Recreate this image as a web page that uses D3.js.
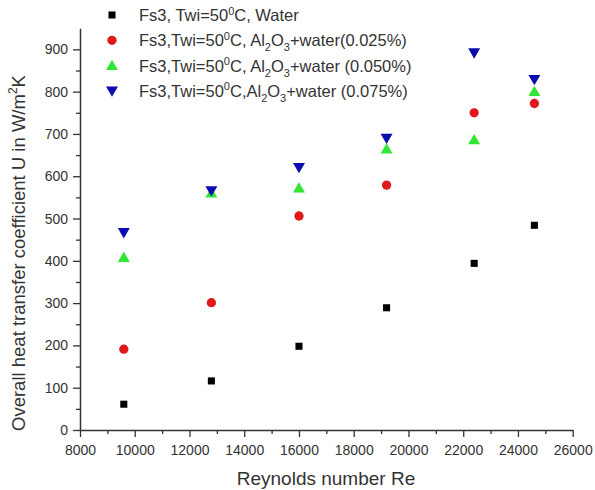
<!DOCTYPE html>
<html lang="en">
<head>
    <meta charset="UTF-8" />
    <title>Overall heat transfer coefficient</title>
    <script src="https://d3js.org/d3.v7.js"></script>
    <style>
        body { margin: 0; background: #fff; }
        text { font-family: "Liberation Sans", Arial, sans-serif; fill: #333; }
    </style>
</head>
<body>
    <script>
        var w = 595;
        var h = 490;

        // Reynolds numbers (x) shared by every series
        var reynolds = [9600, 12800, 16000, 19200, 22400, 24600];

        // U values (W/m2K)
        var water = [61, 116, 198, 289, 394, 484];
        var al025 = [191, 301, 506, 579, 750, 772];
        var al050 = [408, 560, 572, 664, 686, 800];
        var al075 = [467, 566, 621, 690, 892, 829];

        var xTicks = [8000, 10000, 12000, 14000, 16000, 18000, 20000, 22000, 24000, 26000];
        var yTicks = [0, 100, 200, 300, 400, 500, 600, 700, 800, 900];

        var series = [
            { values: water, shape: d3.symbolSquare, size: 50, color: "#000000", dy: 0 },
            { values: al025, shape: d3.symbolCircle, size: 68, color: "#e01a1c", dy: 0 },
            { values: al050, shape: d3.symbolTriangle, size: 62, color: "#33e633", dy: 1 },
            { values: al075, shape: d3.symbolTriangle, size: 62, color: "#0b0bb0", dy: -1, flip: true }
        ];

        var margin = { left: 80, right: 23, top: 29, bottom: 60 };

        var xScale = d3.scaleLinear()
            .domain([8000, 26000])
            .range([margin.left, w - margin.right + 0.7]);

        var yScale = d3.scaleLinear()
            .domain([0, 950])
            .range([h - margin.bottom, margin.top - 0.8]);

        var svg = d3.select("body")
            .append("svg")
            .attr("width", w)
            .attr("height", h);

        // minor ticks first, then majors with labels
        var xMinor = d3.range(9000, 26000, 2000);
        var yMinor = d3.range(50, 950, 100);

        svg.append("g")
            .attr("transform", `translate(0,${yScale(0)})`)
            .call(d3.axisBottom(xScale).tickValues(xMinor).tickSize(4).tickFormat(""))
            .call(g => g.select(".domain").remove())
            .selectAll("line").attr("stroke", "#333").attr("stroke-width", 1.3);

        svg.append("g")
            .attr("transform", `translate(${xScale(8000)},0)`)
            .call(d3.axisLeft(yScale).tickValues(yMinor).tickSize(4).tickFormat(""))
            .call(g => g.select(".domain").remove())
            .selectAll("line").attr("stroke", "#333").attr("stroke-width", 1.3);

        var xAxis = svg.append("g")
            .attr("transform", `translate(0,${yScale(0)})`)
            .call(d3.axisBottom(xScale).tickValues(xTicks).tickSize(7).tickSizeOuter(0).tickPadding(5).tickFormat(d3.format("d")));

        var yAxis = svg.append("g")
            .attr("transform", `translate(${xScale(8000)},0)`)
            .call(d3.axisLeft(yScale).tickValues(yTicks).tickSize(7).tickSizeOuter(0).tickPadding(5).tickFormat(d3.format("d")));

        [xAxis, yAxis].forEach(function (g) {
            g.select(".domain").attr("stroke", "#333").attr("stroke-width", 1.5);
            g.selectAll(".tick line").attr("stroke", "#333").attr("stroke-width", 1.3);
            g.selectAll(".tick text")
                .attr("fill", "#333")
                .style("font-size", "14px")
                .style("font-family", "Liberation Sans, Arial, sans-serif");
        });
        xAxis.selectAll(".tick text").attr("y", 25).attr("dy", 0);

        // points
        series.forEach(function (s) {
            svg.append("g")
                .selectAll("path")
                .data(s.values)
                .enter()
                .append("path")
                .attr("d", d3.symbol().type(s.shape).size(s.size))
                .attr("transform", function (d, i) {
                    var t = `translate(${xScale(reynolds[i])},${yScale(d) + s.dy})`;
                    return s.flip ? t + " rotate(180)" : t;
                })
                .attr("fill", s.color);
        });

        // legend
        var legendItems = [
            { main: "Fs3, Twi=50", rest: "C, Water", al: false },
            { main: "Fs3,Twi=50", rest: "C, Al", tail: "+water(0.025%)", al: true },
            { main: "Fs3,Twi=50", rest: "C, Al", tail: "+water (0.050%)", al: true },
            { main: "Fs3,Twi=50", rest: "C,Al", tail: "+water (0.075%)", al: true }
        ];

        var legend = svg.append("g").attr("transform", "translate(112,15)");

        legendItems.forEach(function (item, i) {
            var s = series[i];
            var y = i * 25.3;
            legend.append("path")
                .attr("d", d3.symbol().type(s.shape).size(s.size))
                .attr("transform", `translate(0,${y + s.dy})` + (s.flip ? " rotate(180)" : ""))
                .attr("fill", s.color);

            var t = legend.append("text")
                .attr("x", 27)
                .attr("y", y + 6)
                .style("font-size", "16.5px");
            t.append("tspan").text(item.main);
            t.append("tspan").attr("dy", -6.5).style("font-size", "11px").text("0");
            t.append("tspan").attr("dy", 6.5).text(item.rest);
            if (item.al) {
                t.append("tspan").attr("dy", 5).style("font-size", "11px").text("2");
                t.append("tspan").attr("dy", -5).text("O");
                t.append("tspan").attr("dy", 5).style("font-size", "11px").text("3");
                t.append("tspan").attr("dy", -5).text(item.tail);
            }
        });

        // axis titles
        svg.append("text")
            .attr("x", 326)
            .attr("y", 485)
            .attr("text-anchor", "middle")
            .style("font-size", "19px")
            .text("Reynolds number Re");

        var yl = svg.append("text")
            .attr("transform", "translate(25,253) rotate(-90)")
            .attr("text-anchor", "middle")
            .style("font-size", "18.5px");
        yl.append("tspan").text("Overall heat transfer coefficient U in W/m");
        yl.append("tspan").attr("dy", -8).style("font-size", "12px").text("2");
        yl.append("tspan").attr("dy", 8).text("K");
    </script>
</body>
</html>
